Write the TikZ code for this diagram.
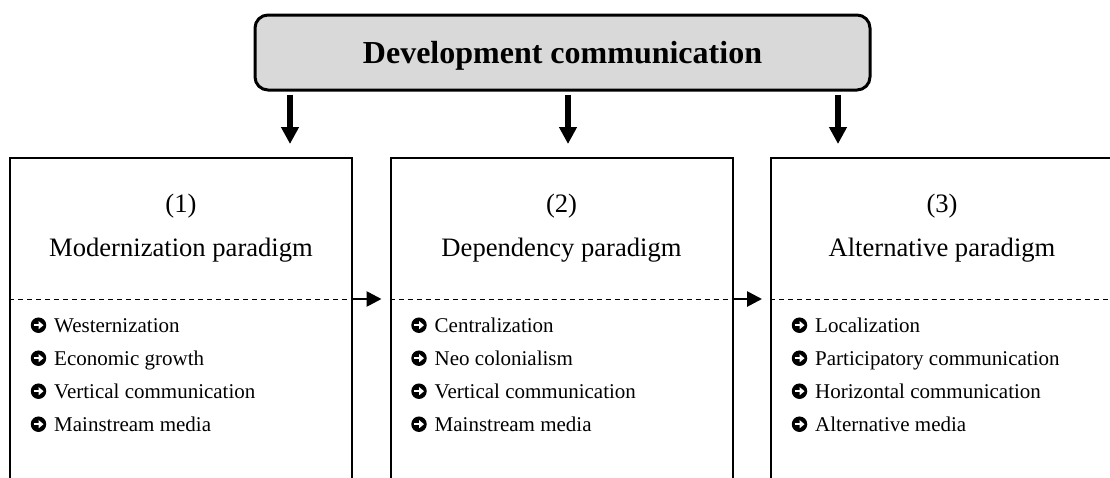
\documentclass[tikz,border=0pt]{standalone}
\usepackage{fontspec}
\setmainfont{Liberation Serif}
\usetikzlibrary{arrows.meta}
\definecolor{titlegray}{HTML}{D9D9D9}

\begin{document}
\begin{tikzpicture}[x=1pt,y=-1pt,
  titlebox/.style={draw, line width=3, rounded corners=13, fill=titlegray,
    minimum width=615, minimum height=75, inner sep=0, text depth=0,
    font=\bfseries\fontsize{32}{36}\selectfont},
  paradigm/.style={draw, line width=2, minimum width=342, minimum height=340,
    inner sep=0, anchor=north},
  heading/.style={anchor=base, inner sep=0, font=\fontsize{26.6}{30}\selectfont},
  item/.style={anchor=base west, inner sep=0, font=\fontsize{21}{25}\selectfont},
  pointer/.style={circle, fill=black, inner sep=0, minimum size=15.5},
  pointerarrow/.style={white, line width=2.3},
  divider/.style={line width=1, dash pattern=on 5 off 4},
  downarrow/.style={line width=5.5, -{Triangle[length=17, width=17]}, shorten <=3},
  nextarrow/.style={line width=2.7, -{Triangle[length=15, width=15]}, shorten >=8},
]
\useasboundingbox (0,0) rectangle (1110,477);
\clip (0,0) rectangle (1110,477);

% title
\node[titlebox] (dev) at (562.5,52.5) {Development communication};

% the three paradigm columns (open towards the bottom)
\node[paradigm] (b1) at (181,157) {};
\node[paradigm] (b2) at (561.5,157) {};
\node[paradigm] (b3) at (942,157) {};

% column headings
\node[heading] (n1) at (b1.north |- 0,212) {(1)};
\node[heading] (h1) at (b1.north |- 0,256) {Modernization paradigm};
\node[heading] (n2) at (b2.north |- 0,212) {(2)};
\node[heading] (h2) at (b2.north |- 0,256) {Dependency paradigm};
\node[heading] (n3) at (b3.north |- 0,212) {(3)};
\node[heading] (h3) at (b3.north |- 0,256) {Alternative paradigm};

% dashed separators
\coordinate (cut) at (0,299);
\foreach \b in {b1,b2,b3}
  \draw[divider] (\b.west |- cut) -- (\b.east |- cut);

% item lists, each with a round arrow bullet
\foreach \b/\list in {
  b1/{Westernization,Economic growth,Vertical communication,Mainstream media},
  b2/{Centralization,Neo colonialism,Vertical communication,Mainstream media},
  b3/{Localization,Participatory communication,Horizontal communication,Alternative media}}
{
  \foreach \t [count=\i from 0] in \list {
    \node[item] (\b-i\i) at ([xshift=45]\b.west |- 0,{332+33*\i}) {\t};
    \node[pointer] (\b-p\i) at ([xshift=-15.5, yshift=6.8]\b-i\i.base west) {};
    \draw[pointerarrow] ([xshift=-4.8]\b-p\i.center) -- ([xshift=1]\b-p\i.center);
    \fill[white] ([xshift=0.2, yshift=-4]\b-p\i.center) -- ([xshift=5]\b-p\i.center)
      -- ([xshift=0.2, yshift=4]\b-p\i.center) -- cycle;
  }
}

% arrows from the title
\coordinate (t1) at (290,144);
\coordinate (t2) at (568,144);
\coordinate (t3) at (838,144);
\foreach \t in {t1,t2,t3}
  \draw[downarrow] (dev.south -| \t) -- (\t);

% arrows between the columns
\draw[nextarrow] (b1.east |- cut) -- (b2.west |- cut);
\draw[nextarrow] (b2.east |- cut) -- (b3.west |- cut);
\end{tikzpicture}
\end{document}
